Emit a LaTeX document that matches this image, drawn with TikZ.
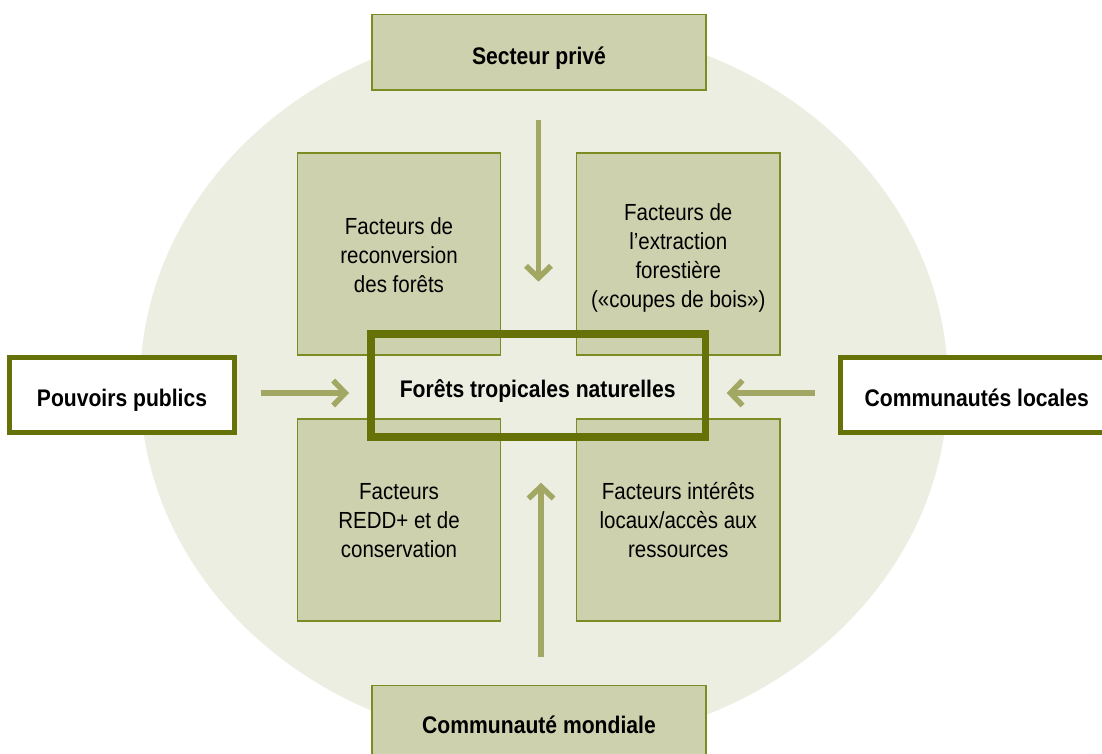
\documentclass[tikz,border=0pt]{standalone}
\usepackage{fontspec}
\setmainfont{Liberation Sans}[FakeStretch=0.88]
\usetikzlibrary{arrows.meta}
\definecolor{bgc}{RGB}{236,238,226}
\definecolor{boxfill}{RGB}{206,209,174}
\definecolor{thinline}{RGB}{125,140,34}
\definecolor{thickline}{RGB}{102,113,8}
\definecolor{arrowc}{RGB}{162,168,100}
\tikzset{
  fbox/.style={draw=thinline, fill=boxfill, line width=1.4pt, inner sep=0pt},
  actor/.style={draw=thickline, fill=white, line width=5pt, inner sep=0pt},
  core/.style={draw=thickline, line width=7.7pt, inner sep=0pt},
  btxt/.style={font=\fontsize{24}{29}\selectfont\bfseries, inner sep=0pt, anchor=base},
  rtxt/.style={font=\fontsize{23.3}{29}\selectfont, inner sep=0pt, anchor=base, align=center},
  flow/.style={draw=arrowc, line width=5.5pt, -{Straight Barb[length=12pt,width=25pt]}}
}
\begin{document}
\begin{tikzpicture}[x=1pt,y=-1pt]
\clip (0,0) rectangle (1102,754);
\fill[white] (0,0) rectangle (1102,754);
\fill[bgc] (544,385) ellipse [x radius=404pt, y radius=360pt];
% factor boxes
\node[fbox, minimum width=203pt, minimum height=202pt] (tl) at (399,254) {};
\node[fbox, minimum width=203.5pt, minimum height=202pt] (tr) at (678.25,254) {};
\node[fbox, minimum width=203pt, minimum height=202pt] (bl) at (399,520) {};
\node[fbox, minimum width=203.5pt, minimum height=202pt] (br) at (678.25,520) {};
% actor boxes
\node[fbox, minimum width=334pt, minimum height=75.5pt] (top) at (539,52.25) {};
\node[fbox, minimum width=334pt, minimum height=84.5pt] (bot) at (539,727.75) {};
\node[actor, minimum width=225pt, minimum height=75pt] (pp) at (122,395) {};
\node[actor, minimum width=289.5pt, minimum height=75pt] (cl) at (985.25,395) {};
% central box
\node[core, minimum width=334.5pt, minimum height=103pt] (ftn) at (538.25,385.5) {};
% arrows
\coordinate (aT0) at (538.5,120);
\coordinate (aT1) at (538.5,281.7);
\coordinate (aB0) at (541,656.7);
\coordinate (aB1) at (541,482.7);
\coordinate (aL0) at (261,393);
\coordinate (aL1) at (349,393);
\coordinate (aR0) at (815,393);
\coordinate (aR1) at (726.7,393);
\draw[flow] (aT0) -- (aT1);
\draw[flow] (aB0) -- (aB1);
\draw[flow] (aL0) -- (aL1);
\draw[flow] (aR0) -- (aR1);
% texts
\node[btxt] (ttop) at (539,64.3) {Secteur privé};
\node[btxt] (tbot) at (539,733.3) {Communauté mondiale};
\node[btxt] (tpp) at (122,406.7) {Pouvoirs publics};
\node[btxt] (tcl) at (976.7,406.7) {Communautés locales};
\node[btxt] (tftn) at (537.7,397.3) {Forêts tropicales naturelles};
\node[rtxt] (ttl) at (399,292.3) {Facteurs de\\reconversion\\des forêts};
\node[rtxt] (ttr) at (678.25,307) {Facteurs de\\l’extraction\\forestière\\(«coupes de bois»)};
\node[rtxt] (tbl) at (399,557.8) {Facteurs\\REDD+ et de\\conservation};
\node[rtxt] (tbr) at (678.25,557.8) {Facteurs intérêts\\locaux/accès aux\\ressources};
\end{tikzpicture}
\end{document}
